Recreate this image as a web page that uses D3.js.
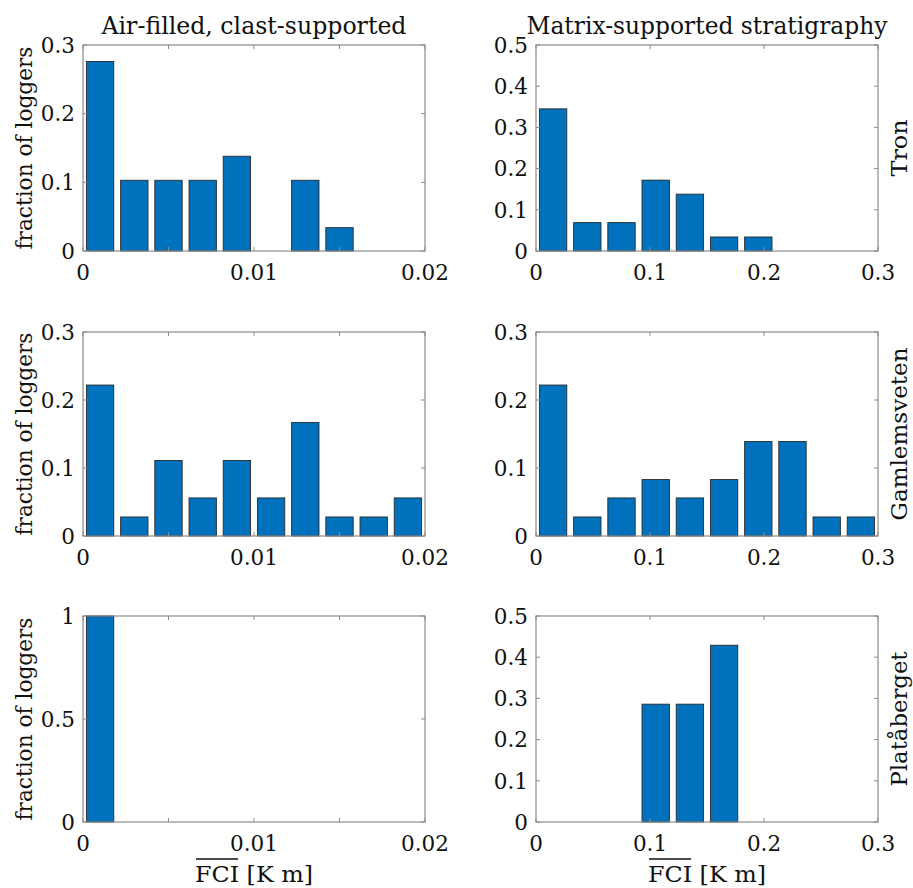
<!DOCTYPE html>
<html>
<head>
<meta charset="utf-8">
<script src="https://cdn.jsdelivr.net/npm/d3@7"></script>
<style>
  body { margin: 0; background: #fff; }
  text { font-family: "DejaVu Serif", serif; fill: #111; }
</style>
</head>
<body>
<div id="chart"></div>
<script>
// fraction of loggers per FCI bin (bins start at 0)
var airBinWidth = 0.002;
var matrixBinWidth = 0.03;

var airTron = [0.276, 0.103, 0.103, 0.103, 0.138, 0, 0.103, 0.034, 0, 0];
var matrixTron = [0.345, 0.069, 0.069, 0.172, 0.138, 0.034, 0.034, 0, 0, 0];
var airGamlem = [0.222, 0.028, 0.111, 0.056, 0.111, 0.056, 0.167, 0.028, 0.028, 0.056];
var matrixGamlem = [0.222, 0.028, 0.056, 0.083, 0.056, 0.083, 0.139, 0.139, 0.028, 0.028];
var airPlata = [1, 0, 0, 0, 0, 0, 0, 0, 0, 0];
var matrixPlata = [0, 0, 0, 0.286, 0.286, 0.429, 0, 0, 0, 0];

var colTitles = ["Air-filled, clast-supported", "Matrix-supported stratigraphy"];
var siteNames = ["Tron", "Gamlemsveten", "Platåberget"];

var airXTicks = [0, 0.005, 0.01, 0.015, 0.02];
var airXLabels = [0, 0.01, 0.02];
var matrixXTicks = [0, 0.1, 0.2, 0.3];
var yTicksTron = [[0, 0.1, 0.2, 0.3], [0, 0.1, 0.2, 0.3, 0.4, 0.5]];
var yTicksGamlem = [[0, 0.1, 0.2, 0.3], [0, 0.1, 0.2, 0.3]];
var yTicksPlata = [[0, 0.5, 1], [0, 0.1, 0.2, 0.3, 0.4, 0.5]];

var width = 913, height = 888;
var colX = [[83, 425], [536, 878]];
var rowY = [[45, 251], [332, 536], [616, 822]];
// widths the labels take up in the figure
var titleLen = [305, 361];
var siteLen = [57, 173, 135];

var panels = [
    {row: 0, col: 0, values: airTron, bw: airBinWidth, xmax: 0.02, xt: airXTicks, xl: airXLabels, yt: yTicksTron[0]},
    {row: 0, col: 1, values: matrixTron, bw: matrixBinWidth, xmax: 0.3, xt: matrixXTicks, xl: matrixXTicks, yt: yTicksTron[1]},
    {row: 1, col: 0, values: airGamlem, bw: airBinWidth, xmax: 0.02, xt: airXTicks, xl: airXLabels, yt: yTicksGamlem[0]},
    {row: 1, col: 1, values: matrixGamlem, bw: matrixBinWidth, xmax: 0.3, xt: matrixXTicks, xl: matrixXTicks, yt: yTicksGamlem[1]},
    {row: 2, col: 0, values: airPlata, bw: airBinWidth, xmax: 0.02, xt: airXTicks, xl: airXLabels, yt: yTicksPlata[0]},
    {row: 2, col: 1, values: matrixPlata, bw: matrixBinWidth, xmax: 0.3, xt: matrixXTicks, xl: matrixXTicks, yt: yTicksPlata[1]}
];

var svg = d3.select("#chart")
    .append("svg")
    .attr("width", width)
    .attr("height", height)

var boxColor = "#8a8a8a";
var fmt = function(v){ return String(+v.toFixed(3)); };

panels.forEach(function(p){
    var x0 = colX[p.col][0], x1 = colX[p.col][1];
    var y0 = rowY[p.row][0], y1 = rowY[p.row][1];

    var x = d3.scaleLinear().domain([0, p.xmax]).range([x0, x1]);
    var y = d3.scaleLinear().domain([0, p.yt[p.yt.length - 1]]).range([y1, y0]);

    var g = svg.append("g").attr("class", "panel");

    // bars, 80% of the bin width like matlab's bar()
    var bars = p.values.map(function(v, i){ return {c: (i + 0.5) * p.bw, v: v}; })
        .filter(function(d){ return d.v > 0; });
    g.selectAll(".bar")
        .data(bars).enter().append("rect")
        .attr("class", "bar")
        .attr("x", function(d){ return x(d.c - 0.4 * p.bw); })
        .attr("width", function(d){ return x(d.c + 0.4 * p.bw) - x(d.c - 0.4 * p.bw); })
        .attr("y", function(d){ return y(d.v); })
        .attr("height", function(d){ return y(0) - y(d.v); })
        .attr("fill", "#0072BD")
        .attr("stroke", "#2a2a2a")
        .attr("stroke-width", 0.9)

    // axes box
    g.append("rect")
        .attr("x", x0).attr("y", y0)
        .attr("width", x1 - x0).attr("height", y1 - y0)
        .attr("fill", "none")
        .attr("stroke", boxColor)
        .attr("stroke-width", 1.2)

    // inward ticks on all four sides
    var tl = 4;
    g.selectAll(".xtick")
        .data(p.xt).enter().append("path")
        .attr("d", function(d){ var xx = x(d); return "M" + xx + "," + y1 + "v" + (-tl) + "M" + xx + "," + y0 + "v" + tl; })
        .attr("stroke", boxColor)
    g.selectAll(".ytick")
        .data(p.yt).enter().append("path")
        .attr("d", function(d){ var yy = y(d); return "M" + x0 + "," + yy + "h" + tl + "M" + x1 + "," + yy + "h" + (-tl); })
        .attr("stroke", boxColor)

    g.selectAll(".xlab")
        .data(p.xl).enter().append("text")
        .attr("x", function(d){ return x(d); })
        .attr("y", y1 + 29)
        .attr("text-anchor", "middle")
        .style("font-size", "21.5px")
        .text(fmt)
    g.selectAll(".ylab")
        .data(p.yt).enter().append("text")
        .attr("x", x0 - 8)
        .attr("y", function(d){ return y(d); })
        .attr("dy", "0.36em")
        .attr("text-anchor", "end")
        .style("font-size", "21.5px")
        .text(fmt)

    if(p.col === 0){
        g.append("text")
            .attr("transform", "translate(32," + ((y0 + y1) / 2) + ") rotate(-90)")
            .attr("text-anchor", "middle")
            .attr("textLength", 203)
            .attr("lengthAdjust", "spacingAndGlyphs")
            .style("font-size", "23px")
            .text("fraction of loggers")
    }else{
        g.append("text")
            .attr("transform", "translate(907," + ((y0 + y1) / 2) + ") rotate(-90)")
            .attr("text-anchor", "middle")
            .attr("textLength", siteLen[p.row])
            .attr("lengthAdjust", "spacingAndGlyphs")
            .style("font-size", "23px")
            .text(siteNames[p.row])
    }

    if(p.row === 0){
        g.append("text")
            .attr("x", (x0 + x1) / 2)
            .attr("y", 34)
            .attr("text-anchor", "middle")
            .attr("textLength", titleLen[p.col])
            .attr("lengthAdjust", "spacingAndGlyphs")
            .style("font-size", "23.5px")
            .text(colTitles[p.col])
    }

    if(p.row === 2){
        var lab = g.append("text")
            .attr("x", (x0 + x1) / 2)
            .attr("y", 882)
            .attr("text-anchor", "middle")
            .attr("textLength", 118)
            .attr("lengthAdjust", "spacingAndGlyphs")
            .style("font-size", "23px")
        lab.append("tspan").text("FCI");
        lab.append("tspan").text(" [K m]");
        // overline on FCI (mean)
        var bb = lab.node().getBBox();
        var fciW = lab.node().getSubStringLength(0, 3);
        g.append("line")
            .attr("x1", bb.x + 1).attr("x2", bb.x + fciW - 1)
            .attr("y1", 859).attr("y2", 859)
            .attr("stroke", "#111")
            .attr("stroke-width", 1.3)
    }
});
</script>
</body>
</html>
